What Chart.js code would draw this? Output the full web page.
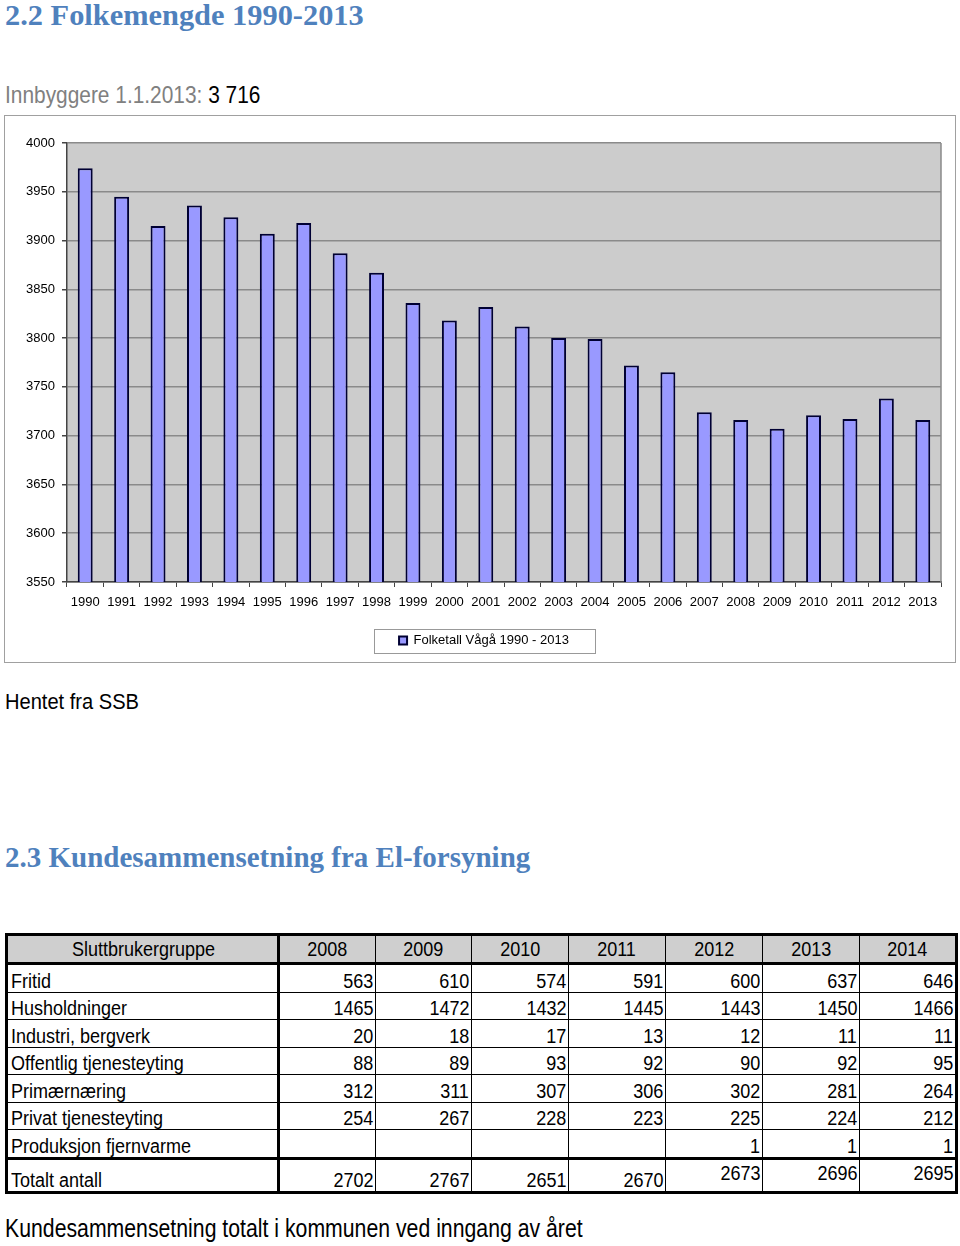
<!DOCTYPE html>
<html>
<head>
<meta charset="utf-8">
<script src="https://cdn.jsdelivr.net/npm/chart.js@4.4.1/dist/chart.umd.min.js"></script>
<style>
body{margin:0;background:#fff;width:960px;height:1246px;position:relative;overflow:hidden;font-family:"Liberation Sans",Arial,sans-serif}
.h{position:absolute;left:5px;margin:0;font:bold 30.4px/30px "Liberation Serif","Times New Roman",serif;color:#4f81bd;white-space:nowrap}
.nar{transform-origin:0 50%}
#innb{position:absolute;left:5px;top:83px;font:24px/24px "Liberation Sans",sans-serif;color:#808080;white-space:nowrap;transform:scaleX(0.87)}
#innb span{color:#000}
#box{position:absolute;left:4px;top:115px;width:952px;height:548px;border:1px solid #a0a0a0;box-sizing:border-box}
#box canvas{position:absolute;left:0;top:0}
#kilde{position:absolute;left:5px;top:690px;font:22px/24px "Liberation Sans",sans-serif;white-space:nowrap;transform:scaleX(0.913)}
#tab{position:absolute;left:5px;top:933px;width:950px;border-collapse:collapse;table-layout:fixed;border:3px solid #000;font:20px "Liberation Sans",sans-serif}
#tab td,#tab th{border:1.5px solid #000;padding:0 2px;height:26.5px;line-height:22px;white-space:nowrap;overflow:hidden;vertical-align:bottom}
#tab th{background:#cfcfcf;font-weight:normal;text-align:center;border-bottom:3px solid #000;height:26px;vertical-align:middle}
#tab td{text-align:right}
#tab td:first-child,#tab th:first-child{text-align:left;border-right:3px solid #000;padding-left:3px}
#tab th:first-child{text-align:center}
#tab tr.sum td{border-top:3px solid #000;height:29px;vertical-align:bottom}
#tab tr.sum td.hi{vertical-align:top;padding-top:2px}
#tab span{display:inline-block;transform:scaleX(0.9);transform-origin:100% 50%}
#tab td:first-child span{transform-origin:0 50%}
#tab th span{transform-origin:50% 50%}
#fig{position:absolute;left:5px;top:1215px;font:25px/26px "Liberation Sans",sans-serif;white-space:nowrap;transform:scaleX(0.85)}
</style>
</head>
<body>
<div class="h" style="top:0">2.2 Folkemengde 1990-2013</div>
<div id="innb" class="nar">Innbyggere 1.1.2013: <span>3 716</span></div>
<div id="box"><canvas id="c" width="950" height="546"></canvas></div>
<div id="kilde" class="nar">Hentet fra SSB</div>
<div class="h" style="top:842px;font-size:29px">2.3 Kundesammensetning fra El-forsyning</div>
<table id="tab"></table>
<div id="fig" class="nar">Kundesammensetning totalt i kommunen ved inngang av året</div>
<script>
// folketall
var years = ['1990','1991','1992','1993','1994','1995','1996','1997','1998','1999','2000','2001','2002','2003','2004','2005','2006','2007','2008','2009','2010','2011','2012','2013'];
var folketall = [3974,3945,3915,3936,3924,3907,3918,3887,3867,3836,3818,3832,3812,3800,3799,3772,3765,3724,3716,3707,3721,3717,3738,3716];
var yMin = 3550, yMax = 4000, yStep = 50;

// kundesammensetning
var tabYears = ['2008','2009','2010','2011','2012','2013','2014'];
var grupper = ['Fritid','Husholdninger','Industri, bergverk','Offentlig tjenesteyting','Primærnæring','Privat tjenesteyting','Produksjon fjernvarme'];
var fritid = [563,610,574,591,600,637,646];
var husholdninger = [1465,1472,1432,1445,1443,1450,1466];
var industri = [20,18,17,13,12,11,11];
var offentlig = [88,89,93,92,90,92,95];
var primaer = [312,311,307,306,302,281,264];
var privat = [254,267,228,223,225,224,212];
var fjernvarme = ['','','','',1,1,1];
var totalt = [2702,2767,2651,2670,2673,2696,2695];

// tabell
var tab = document.getElementById('tab');
var cols = '<colgroup><col style="width:272px">';
[97,96,97,97,97,97,97].forEach(function(w){ cols += '<col style="width:'+w+'px">'; });
cols += '</colgroup>';
var html = cols + '<tr><th><span>Sluttbrukergruppe</span></th>';
tabYears.forEach(function(y){ html += '<th><span>'+y+'</span></th>'; });
html += '</tr>';
var rader = [fritid,husholdninger,industri,offentlig,primaer,privat,fjernvarme];
rader.forEach(function(r,i){
    html += '<tr><td><span>'+grupper[i]+'</span></td>';
    r.forEach(function(v){ html += '<td><span>'+v+'</span></td>'; });
    html += '</tr>';
});
html += '<tr class="sum"><td><span>Totalt antall</span></td>';
totalt.forEach(function(v,i){ html += '<td'+(i>3?' class="hi"':'')+'><span>'+v+'</span></td>'; });
html += '</tr>';
tab.innerHTML = html;

// bakgrunn og ramme rundt plot + legend
var plotBg = {
    id: 'plotBg',
    afterLayout: function(chart){
        chart.legend.left += 11;
        chart.legend.right += 11;
    },
    beforeDraw: function(chart){
        var a = chart.chartArea, ctx = chart.ctx;
        ctx.save();
        ctx.fillStyle = '#cccccc';
        ctx.fillRect(a.left, a.top, a.right - a.left, a.bottom - a.top);
        ctx.restore();
    },
    afterDraw: function(chart){
        var a = chart.chartArea, ctx = chart.ctx;
        ctx.save();
        ctx.strokeStyle = '#8a8a8a';
        ctx.lineWidth = 1.5;
        ctx.beginPath();
        ctx.moveTo(a.right, a.top);
        ctx.lineTo(a.right, a.bottom);
        ctx.stroke();
        var hb = chart.legend.legendHitBoxes[0];
        if (hb) {
            var cx = hb.left + hb.width / 2, cy = hb.top + hb.height / 2;
            ctx.strokeStyle = '#999';
            ctx.lineWidth = 1;
            ctx.strokeRect(Math.round(cx - 110.5) + 0.5, Math.round(cy - 12) + 0.5, 221, 24);
        }
        ctx.restore();
    }
};

Chart.defaults.font.family = '"Liberation Sans", Arial, sans-serif';
Chart.defaults.color = '#000';

new Chart(document.getElementById('c'), {
    type: 'bar',
    data: {
        labels: years,
        datasets: [{
            label: 'Folketall Vågå 1990 - 2013',
            data: folketall,
            backgroundColor: '#9999ff',
            borderColor: '#000033',
            borderWidth: 2,
            barPercentage: 0.41,
            categoryPercentage: 1.0
        }]
    },
    options: {
        responsive: false,
        animation: false,
        layout: { padding: { top: 27, right: 14, bottom: 5, left: 0 } },
        plugins: {
            legend: {
                position: 'bottom',
                labels: { boxWidth: 8, boxHeight: 8, padding: 10, font: { size: 13 } }
            },
            tooltip: { enabled: false }
        },
        scales: {
            x: {
                grid: { drawOnChartArea: false, tickLength: 5, tickColor: '#444', offset: true },
                border: { color: '#444', width: 1.5 },
                ticks: { font: { size: 13 }, padding: 8, maxRotation: 0, autoSkip: false },
                afterFit: function(s){ s.height = 42; }
            },
            y: {
                min: yMin,
                max: yMax,
                grid: { color: '#8a8a8a', lineWidth: 1.5, tickLength: 5, tickColor: '#444' },
                border: { color: '#444', width: 1.5 },
                ticks: { stepSize: yStep, font: { size: 13 }, padding: 7, callback: function(v){ return String(v); } },
                afterFit: function(s){ s.width = 62; }
            }
        }
    },
    plugins: [plotBg]
});
</script>
</body>
</html>
